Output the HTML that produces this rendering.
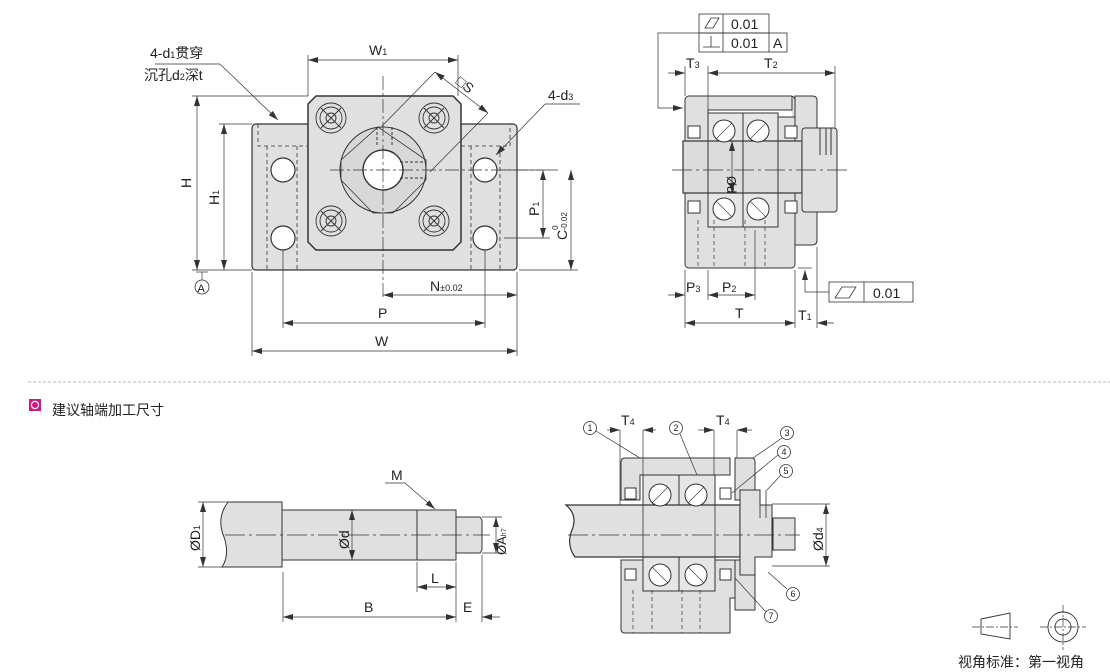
<!DOCTYPE html>
<html><head><meta charset="utf-8"><style>
html,body{margin:0;padding:0;background:#fff}
svg{display:block}
text{font-family:"Liberation Sans","Noto Sans CJK SC",sans-serif;fill:#222}
</style></head><body>
<svg width="1110" height="672" viewBox="0 0 1110 672" xmlns="http://www.w3.org/2000/svg">
<defs>
<marker id="a" viewBox="0 0 10 6" refX="10" refY="3" markerWidth="10" markerHeight="6" orient="auto-start-reverse" markerUnits="userSpaceOnUse"><path d="M0,0 L10,3 L0,6 z" fill="#333"/></marker>
</defs>
<g stroke="#333" stroke-width="1" fill="none">
<rect x="252" y="124" width="265" height="146" rx="4" fill="#e0e0e0" stroke-width="1.2"/>
<path d="M316,96 L453,96 L461,104 L461,242 L453,250 L316,250 L308,242 L308,104 Z" fill="#e0e0e0" stroke-width="1.5"/>
<g stroke-dasharray="4,3" stroke-width="0.8">
<path d="M258,124 V146 H307 M461,146 H510 V124"/>
<line x1="267" y1="146" x2="267" y2="270"/><line x1="297" y1="146" x2="297" y2="270"/>
<line x1="471" y1="146" x2="471" y2="270"/><line x1="500" y1="146" x2="500" y2="270"/>
</g>
<g fill="#fff" stroke-width="1.2">
<circle cx="283" cy="170" r="12"/><circle cx="283" cy="238" r="12"/>
<circle cx="485" cy="170" r="12"/><circle cx="485" cy="238" r="12"/>
</g>
<g stroke-width="0.9">
<circle cx="331" cy="118" r="15"/><circle cx="331" cy="118" r="11"/><circle cx="331" cy="118" r="5"/>
<circle cx="434" cy="118" r="15"/><circle cx="434" cy="118" r="11"/><circle cx="434" cy="118" r="5"/>
<circle cx="331" cy="221" r="15"/><circle cx="331" cy="221" r="11"/><circle cx="331" cy="221" r="5"/>
<circle cx="434" cy="221" r="15"/><circle cx="434" cy="221" r="11"/><circle cx="434" cy="221" r="5"/>
<path d="M321,108 L341,128 M341,108 L321,128 M424,108 L444,128 M444,108 L424,128 M321,211 L341,231 M341,211 L321,231 M424,211 L444,231 M444,211 L424,231"/>
</g>
<circle cx="383" cy="170" r="43" fill="#d8d8d8"/>
<path d="M378,127 L426,160 L426,180 L393,213 L373,213 L341,180 L341,160 Z" stroke-width="0.8"/>
<circle cx="383" cy="170" r="20" fill="#fff" stroke-width="1.4"/>
<path d="M377,127 V145 M392,127 V145 M400,162 H426 M400,178 H426" stroke-dasharray="3,2"/>
<path d="M383,76 V300 M330,170 H540" stroke-dasharray="14,3,3,3" stroke-width="0.7"/>
<g stroke-width="0.7">
<line x1="308" y1="55" x2="308" y2="96"/><line x1="458" y1="55" x2="458" y2="96"/>
<line x1="308" y1="60" x2="458" y2="60" marker-start="url(#a)" marker-end="url(#a)"/>
<line x1="192" y1="96" x2="308" y2="96"/><line x1="219" y1="124" x2="252" y2="124"/>
<line x1="192" y1="270" x2="252" y2="270"/>
<line x1="197" y1="96" x2="197" y2="270" marker-start="url(#a)" marker-end="url(#a)"/>
<line x1="224" y1="124" x2="224" y2="270" marker-start="url(#a)" marker-end="url(#a)"/>
<line x1="196" y1="272" x2="208" y2="272"/><line x1="202" y1="272" x2="202" y2="280"/>
<line x1="252" y1="272" x2="252" y2="356"/><line x1="517" y1="272" x2="517" y2="356"/>
<line x1="283" y1="250" x2="283" y2="328"/><line x1="485" y1="250" x2="485" y2="328"/>
<line x1="383" y1="295" x2="517" y2="295" marker-start="url(#a)" marker-end="url(#a)"/>
<line x1="283" y1="323" x2="485" y2="323" marker-start="url(#a)" marker-end="url(#a)"/>
<line x1="252" y1="351" x2="517" y2="351" marker-start="url(#a)" marker-end="url(#a)"/>
<line x1="504" y1="170" x2="558" y2="170"/><line x1="504" y1="238" x2="550" y2="238"/>
<line x1="519" y1="270" x2="578" y2="270"/>
<line x1="543" y1="170" x2="543" y2="238" marker-start="url(#a)" marker-end="url(#a)"/>
<line x1="571" y1="170" x2="571" y2="270" marker-start="url(#a)" marker-end="url(#a)"/>
<line x1="155" y1="64" x2="220" y2="64"/><line x1="220" y1="64" x2="278" y2="120" marker-end="url(#a)"/>
<line x1="545" y1="104" x2="580" y2="104"/><line x1="545" y1="104" x2="496" y2="155" marker-end="url(#a)"/>
<line x1="435" y1="72" x2="488" y2="113" marker-start="url(#a)" marker-end="url(#a)"/>
<line x1="435" y1="72" x2="382" y2="126"/><line x1="488" y1="113" x2="430" y2="172"/>
</g>
<circle cx="202" cy="287" r="7" stroke-width="0.8"/>

<!-- SIDE VIEW -->
<rect x="685" y="96" width="110" height="172" rx="4" fill="#e0e0e0"/>
<path d="M795,96 H812 Q817,96 817,100 V240 Q817,245 812,245 H795 Z" fill="#e0e0e0"/>
<rect x="708" y="110" width="84" height="7" fill="#fff" stroke="none"/>
<path d="M708,117 V110 H792 V96 M708,117 H795"/>
<rect x="708" y="113" width="35" height="44" fill="#e6e6e6"/><rect x="743" y="113" width="35" height="44" fill="#e6e6e6"/>
<rect x="708" y="193" width="35" height="34" fill="#e6e6e6"/><rect x="743" y="193" width="35" height="34" fill="#e6e6e6"/>
<rect x="683" y="141" width="119" height="52" fill="#dcdcdc" stroke-width="1.2"/>
<path d="M708,141 V193 M743,141 V193 M778,141 V193 M802,141 V193"/>
<rect x="802" y="128" width="35" height="84" rx="3" fill="#e0e0e0"/>
<path d="M820,128 V155 M826,128 V155 M831,128 V155"/>
<g fill="#fff"><circle cx="724" cy="131" r="11"/><circle cx="758" cy="131" r="11"/><circle cx="724" cy="209" r="11"/><circle cx="758" cy="209" r="11"/></g>
<path d="M716,139 L732,123 M750,139 L766,123 M716,201 L732,217 M750,201 L766,217" stroke-width="0.6"/>
<rect x="688" y="126" width="12" height="12" fill="#fff"/><rect x="785" y="126" width="12" height="12" fill="#fff"/>
<rect x="688" y="201" width="12" height="12" fill="#fff"/><rect x="785" y="201" width="12" height="12" fill="#fff"/>
<path d="M698,220 V268 M714,220 V268 M745,220 V268 M765,220 V268" stroke-dasharray="4,3" stroke-width="0.7"/>
<path d="M672,170 H850" stroke-dasharray="20,4,3,4" stroke-width="0.7"/>
<line x1="732" y1="141" x2="732" y2="193" stroke-width="0.7" marker-start="url(#a)" marker-end="url(#a)"/>
<rect x="699" y="14" width="70" height="19" fill="#fff" stroke-width="0.8"/><line x1="723" y1="14" x2="723" y2="52" stroke-width="0.8"/>
<rect x="699" y="33" width="88" height="19" fill="none" stroke-width="0.8"/><line x1="769" y1="33" x2="769" y2="52" stroke-width="0.8"/>
<path d="M705,28 L711,18 L719,18 L713,28 Z M705,47 H718 M711,47 V36 M703,47 H720" stroke-width="0.8"/>
<g stroke-width="0.7">
<path d="M699,33 H658 V108 H683" marker-end="url(#a)"/>
<line x1="685" y1="66" x2="685" y2="96"/><line x1="708" y1="66" x2="708" y2="110"/><line x1="835" y1="66" x2="835" y2="128"/>
<line x1="668" y1="73" x2="685" y2="73" marker-end="url(#a)"/><line x1="708" y1="73" x2="835" y2="73" marker-start="url(#a)" marker-end="url(#a)"/>
<line x1="685" y1="270" x2="685" y2="328"/><line x1="708" y1="270" x2="708" y2="300"/><line x1="755" y1="230" x2="755" y2="300"/>
<line x1="795" y1="270" x2="795" y2="328"/><line x1="817" y1="247" x2="817" y2="328"/>
<line x1="668" y1="295" x2="685" y2="295" marker-end="url(#a)"/><line x1="708" y1="295" x2="755" y2="295" marker-start="url(#a)" marker-end="url(#a)"/>
<line x1="685" y1="323" x2="795" y2="323" marker-start="url(#a)" marker-end="url(#a)"/>
<line x1="834" y1="323" x2="817" y2="323" marker-end="url(#a)"/>
<line x1="798" y1="268" x2="812" y2="268"/>
<path d="M829,292 H805 V270" marker-end="url(#a)"/>
</g>
<rect x="829" y="282" width="84" height="20" fill="#fff" stroke-width="0.8"/><line x1="864" y1="282" x2="864" y2="302" stroke-width="0.8"/>
<path d="M835,298 L842,287 L856,287 L849,298 Z" stroke-width="0.8"/>

<line x1="28" y1="382" x2="1110" y2="382" stroke="#bbb" stroke-dasharray="3,2"/>

<path d="M228,502 H282 V567 H222 Q230,555 224,537 Q216,518 228,502 Z" fill="#e0e0e0"/>
<rect x="282" y="510" width="135" height="50" fill="#e0e0e0"/>
<rect x="417" y="510" width="39" height="50" fill="#e0e0e0"/>
<path d="M456,517 H480 L482,520 V550 L480,553 H456 Z" fill="#e0e0e0"/>
<path d="M225,535 H490" stroke-dasharray="20,4,3,4" stroke-width="0.7"/>
<g stroke-width="0.7">
<line x1="198" y1="502" x2="228" y2="502"/><line x1="198" y1="567" x2="222" y2="567"/>
<line x1="203" y1="502" x2="203" y2="567" marker-start="url(#a)" marker-end="url(#a)"/>
<line x1="352" y1="510" x2="352" y2="560" marker-start="url(#a)" marker-end="url(#a)"/>
<line x1="482" y1="517" x2="502" y2="517"/><line x1="482" y1="553" x2="502" y2="553"/>
<line x1="496" y1="517" x2="496" y2="553" marker-start="url(#a)" marker-end="url(#a)"/>
<line x1="283" y1="572" x2="283" y2="622"/><line x1="417" y1="562" x2="417" y2="592"/>
<line x1="456" y1="562" x2="456" y2="622"/><line x1="482" y1="555" x2="482" y2="622"/>
<line x1="417" y1="587" x2="456" y2="587" marker-start="url(#a)" marker-end="url(#a)"/>
<line x1="283" y1="617" x2="456" y2="617" marker-start="url(#a)" marker-end="url(#a)"/>
<line x1="500" y1="617" x2="482" y2="617" marker-end="url(#a)"/>
<line x1="385" y1="483" x2="405" y2="483"/><line x1="405" y1="483" x2="435" y2="509" marker-end="url(#a)"/>
</g>

<path d="M625,458 H730 V475 H640 V500 H621 V462 Q621,458 625,458 Z" fill="#e0e0e0"/>
<path d="M735,458 H752 Q755,458 755,462 V500 H735 Z" fill="#e0e0e0"/>
<path d="M621,560 H735 V598 H730 V633 H625 Q621,633 621,629 Z" fill="#e0e0e0"/>
<path d="M735,560 H755 V610 H735 Z" fill="#e0e0e0"/>
<rect x="643" y="475" width="36" height="30" fill="#e6e6e6"/><rect x="679" y="475" width="36" height="30" fill="#e6e6e6"/>
<rect x="643" y="557" width="36" height="34" fill="#e6e6e6"/><rect x="679" y="557" width="36" height="34" fill="#e6e6e6"/>
<path d="M575,505 H740 V557 H575 Q566,545 572,530 Q578,515 566,505 Z" fill="#e0e0e0" stroke-width="1.2"/>
<path d="M740,490 H760 V505 H772 V557 H755 V575 H740 Z" fill="#e0e0e0"/>
<rect x="773" y="518" width="22" height="32" fill="#e0e0e0"/>
<path d="M760,490 V518 M766,490 V518 M643,505 V557 M715,505 V557" stroke-width="0.8"/>
<g fill="#fff"><circle cx="660" cy="495" r="11"/><circle cx="696" cy="495" r="11"/><circle cx="660" cy="575" r="11"/><circle cx="696" cy="575" r="11"/></g>
<path d="M652,503 L668,487 M688,503 L704,487 M652,567 L668,583 M688,567 L704,583" stroke-width="0.6"/>
<rect x="625" y="488" width="11" height="11" fill="#fff"/><rect x="720" y="488" width="11" height="11" fill="#fff"/>
<rect x="625" y="569" width="11" height="11" fill="#fff"/><rect x="720" y="569" width="11" height="11" fill="#fff"/>
<path d="M633,590 V633 M652,590 V633 M682,590 V633 M700,590 V633" stroke-dasharray="4,3" stroke-width="0.7"/>
<path d="M568,535 H800" stroke-dasharray="20,4,3,4" stroke-width="0.7"/>
<g stroke-width="0.7">
<line x1="620" y1="430" x2="620" y2="505"/><line x1="643" y1="430" x2="643" y2="475"/>
<line x1="714" y1="430" x2="714" y2="475"/><line x1="737" y1="430" x2="737" y2="458"/>
<line x1="607" y1="430" x2="620" y2="430" marker-end="url(#a)"/><line x1="656" y1="430" x2="643" y2="430" marker-end="url(#a)"/>
<line x1="698" y1="430" x2="714" y2="430" marker-end="url(#a)"/><line x1="752" y1="430" x2="737" y2="430" marker-end="url(#a)"/>
<line x1="772" y1="504" x2="830" y2="504"/><line x1="772" y1="566" x2="830" y2="566"/>
<line x1="826" y1="504" x2="826" y2="566" marker-start="url(#a)" marker-end="url(#a)"/>
<line x1="596" y1="431" x2="640" y2="458"/><line x1="680" y1="434" x2="697" y2="475"/>
<line x1="782" y1="438" x2="753" y2="458"/><line x1="778" y1="455" x2="732" y2="493"/>
<line x1="781" y1="475" x2="767" y2="490"/><line x1="787" y1="589" x2="768" y2="572"/>
<line x1="766" y1="612" x2="735" y2="578"/>
</g>
<g stroke-width="0.8">
<circle cx="590" cy="428" r="6.5"/><circle cx="676" cy="428" r="6.5"/><circle cx="787" cy="433" r="6.5"/>
<circle cx="784" cy="452" r="6.5"/><circle cx="786" cy="471" r="6.5"/><circle cx="793" cy="594" r="6.5"/><circle cx="771" cy="616" r="6.5"/>
</g>
<path d="M981,619 L1010,613 V639 L981,634 Z" stroke-width="0.9"/>
<path d="M972,627 H1018 M1040,627 H1086 M1063,605 V650" stroke-dasharray="8,2,2,2" stroke-width="0.7"/>
<circle cx="1063" cy="627" r="15" stroke-width="0.9"/><circle cx="1063" cy="627" r="8" stroke-width="0.9"/>
</g>
<rect x="29" y="399" width="12" height="12" fill="#d8157f"/><circle cx="35" cy="405" r="3.6" fill="none" stroke="#fff" stroke-width="1.2"/>

<g font-size="14">
<text x="369" y="55">W<tspan font-size="9">1</tspan></text>
<text x="150" y="58">4-d<tspan font-size="9">1</tspan>贯穿</text>
<text x="144" y="80">沉孔d<tspan font-size="9">2</tspan>深t</text>
<text x="548" y="100">4-d<tspan font-size="9">3</tspan></text>
<text x="191" y="188" transform="rotate(-90 191 188)">H</text>
<text x="219" y="205" transform="rotate(-90 219 205)">H<tspan font-size="9">1</tspan></text>
<text x="539" y="216" transform="rotate(-90 539 216)">P<tspan font-size="9">1</tspan></text>
<text x="567" y="240" transform="rotate(-90 567 240)">C<tspan font-size="8" dy="-9">0</tspan><tspan font-size="8" dx="-5" dy="9">-0.02</tspan></text>
<text x="455" y="83" transform="rotate(38 455 83)">□S</text>
<text x="197.5" y="292" font-size="11">A</text>
<text x="430" y="291">N<tspan font-size="9">±0.02</tspan></text>
<text x="378" y="318">P</text>
<text x="375" y="346">W</text>
<text x="731" y="29">0.01</text><text x="731" y="48">0.01</text><text x="773" y="48">A</text>
<text x="686" y="68">T<tspan font-size="9">3</tspan></text>
<text x="764" y="68">T<tspan font-size="9">2</tspan></text>
<text x="727" y="176" transform="rotate(90 727 176)" font-size="13">Ød</text>
<text x="686" y="292">P<tspan font-size="9">3</tspan></text>
<text x="722" y="292">P<tspan font-size="9">2</tspan></text>
<text x="735" y="318">T</text>
<text x="798" y="320">T<tspan font-size="9">1</tspan></text>
<text x="873" y="298">0.01</text>
<text x="52" y="415">建议轴端加工尺寸</text>
<text x="391" y="480">M</text>
<text x="200" y="551" transform="rotate(-90 200 551)">ØD<tspan font-size="9">1</tspan></text>
<text x="349" y="549" transform="rotate(-90 349 549)">Ød</text>
<text x="506" y="555" transform="rotate(-90 506 555)" font-size="13">ØA<tspan font-size="7">h7</tspan></text>
<text x="431" y="583">L</text>
<text x="364" y="612">B</text>
<text x="463" y="612">E</text>
<text x="621" y="425">T<tspan font-size="9">4</tspan></text>
<text x="716" y="425">T<tspan font-size="9">4</tspan></text>
<text x="823" y="551" transform="rotate(-90 823 551)">Ød<tspan font-size="9">4</tspan></text>
<text x="958" y="667">视角标准：第一视角</text>
</g>
<g font-size="9" text-anchor="middle">
<text x="590" y="431">1</text><text x="676" y="431">2</text><text x="787" y="436">3</text><text x="784" y="455">4</text><text x="786" y="474">5</text><text x="793" y="597">6</text><text x="771" y="619">7</text>
</g>
</svg>
</body></html>
